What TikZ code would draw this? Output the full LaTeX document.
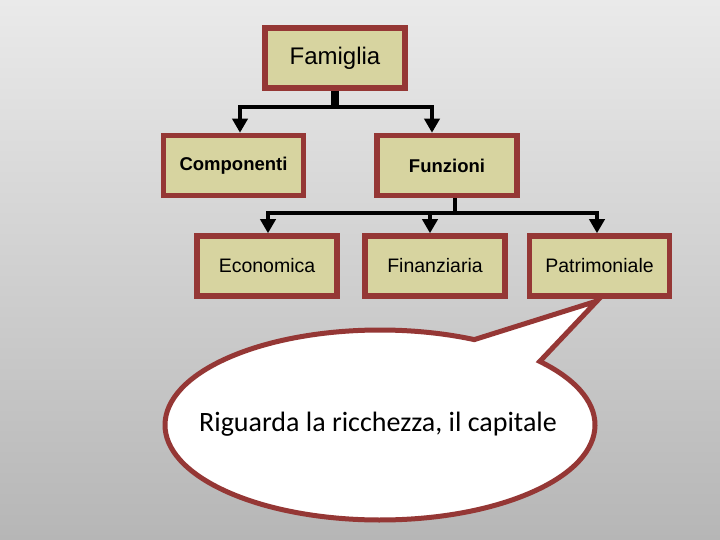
\documentclass[tikz,border=0pt]{standalone}
\usepackage{fontspec}
\setmainfont{Liberation Sans}
\newfontfamily\calloutfont{Carlito}
\usetikzlibrary{arrows.meta,positioning,calc}
\definecolor{famred}{HTML}{953735}
\definecolor{famkhaki}{HTML}{D7D4A0}
\definecolor{bgtop}{HTML}{EAEAEA}
\definecolor{bgbottom}{HTML}{B6B6B6}

\begin{document}
\begin{tikzpicture}[x=1pt,y=-1pt,
  box/.style={draw=famred,fill=famkhaki,line width=5.5pt,minimum width=140pt,minimum height=60pt,inner sep=0pt,font=\fontsize{19.5}{23}\selectfont},
  conn/.style={line width=3.5pt,black,-{Triangle[width=15pt,length=14pt]}}]
\shade[top color=bgtop,bottom color=bgbottom] (0,0) rectangle (720,540);
\node[box,font=\fontsize{24}{28}\selectfont] (fam) at (335,58) {Famiglia};
\node[box,font=\bfseries\fontsize{18.5}{22}\selectfont] (comp) at (233.5,165.5) {Componenti};
\node[box,font=\bfseries\fontsize{18.5}{22}\selectfont] (funz) at (447,165.5) {Funzioni};
\node[box] (eco) at (267,266) {Economica};
\node[box] (fin) at (435,266) {Finanziaria};
\node[box] (patr) at (599.5,266) {Patrimoniale};
% primo livello
\coordinate (j1) at (335,107);
\draw[line width=8pt] (fam.south) -- (j1);
\draw[conn] (j1) -| (comp.north -| 240,0);
\draw[conn] (j1) -| (funz.north -| 432,0);
% secondo livello
\coordinate (j2) at (455,213);
\draw[line width=3.5pt] (funz.south -| j2) -- (j2);
\draw[conn] (j2) -| (eco.north -| 268,0);
\draw[conn] (j2) -| (fin.north -| 430,0);
\draw[conn] (j2) -| (patr.north -| 597,0);
% nuvoletta
\coordinate (bc) at (380,425);
\coordinate (tip) at (597,301);
\filldraw[draw=famred,fill=white,line width=5pt,line join=miter]
  ($(bc)+(-64:215 and 95)$) -- (tip) -- ($(bc)+(-42:215 and 95)$)
  arc[start angle=-42,end angle=296,x radius=215,y radius=95] -- cycle;
\node[font=\calloutfont\fontsize{28}{33}\selectfont] (ric) at (378,424) {Riguarda la ricchezza, il capitale};
\end{tikzpicture}
\end{document}
